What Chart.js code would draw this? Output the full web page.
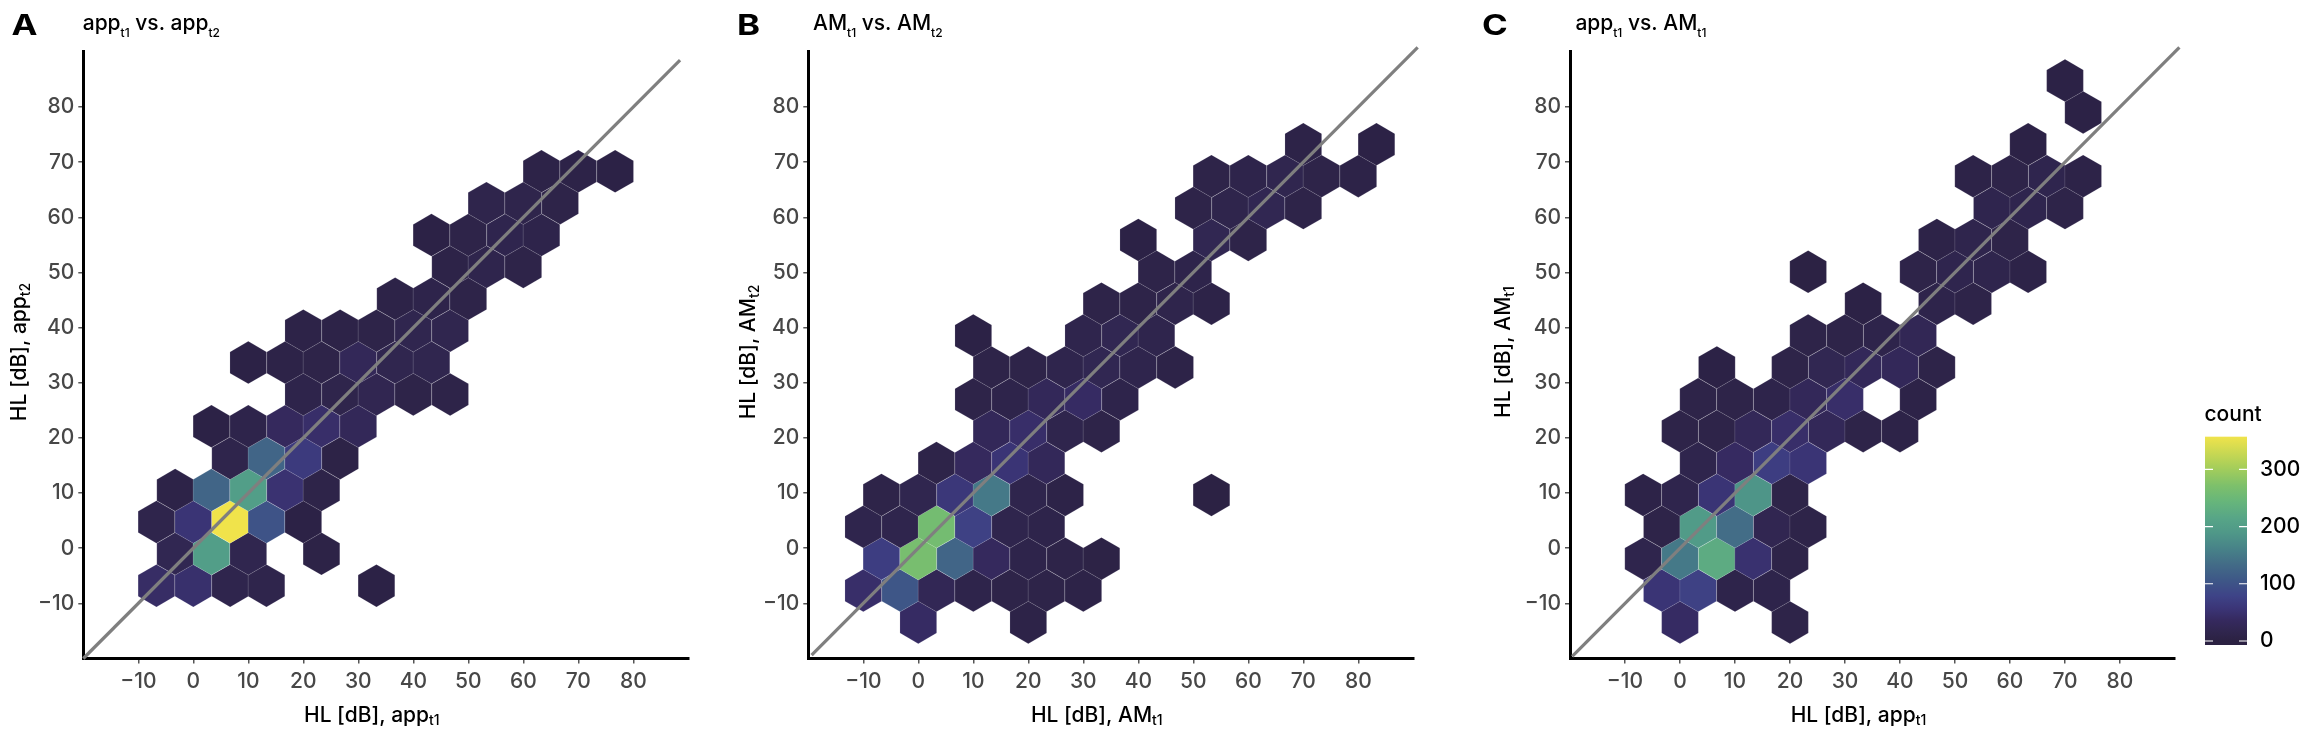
<!DOCTYPE html>
<html>
<head>
<meta charset="utf-8">
<script src="https://cdn.jsdelivr.net/npm/chart.js@4.4.0/dist/chart.umd.min.js"></script>
<style>
  body { margin: 0; background: #fff; }
  #wrap { position: relative; width: 2309px; height: 742px; background: #fff; }
  canvas { position: absolute; top: 0; }
</style>
</head>
<body>
<div id="wrap">
  <canvas id="pA" width="724" height="742" style="left:0px"></canvas>
  <canvas id="pB" width="752" height="742" style="left:724px"></canvas>
  <canvas id="pC" width="833" height="742" style="left:1476px"></canvas>
</div>
<script>
const FONT = 'Inter, "Liberation Sans", Arial, sans-serif';
const WEIGHT = '500 ';

// axis ticks (both axes, all panels) and colour bar ticks
const axisTicks = [-10, 0, 10, 20, 30, 40, 50, 60, 70, 80];
const legendTicks = [0, 100, 200, 300];
const countMax = 357;

// hex bin size in data units (width, row spacing)
const hexW = 6.667;
const hexS = 5.78;

// ---- panel A: app t1 vs app t2 ----
const aRowY = [-6.8, -1.02, 4.76, 10.54, 16.32, 22.1, 27.88, 33.66, 39.44, 45.22, 51.0, 56.78, 62.56, 68.34];
const aRowX = [
  [-6.7, 0, 6.7, 13.3, 33.3],
  [-3.3, 3.3, 10, 23.3],
  [-6.7, 0, 6.7, 13.3, 20],
  [-3.3, 3.3, 10, 16.7, 23.3],
  [6.7, 13.3, 20, 26.7],
  [3.3, 10, 16.7, 23.3, 30],
  [20, 26.7, 33.3, 40, 46.7],
  [10, 16.7, 23.3, 30, 36.7, 43.3],
  [20, 26.7, 33.3, 40, 46.7],
  [36.7, 43.3, 50],
  [46.7, 53.3, 60],
  [43.3, 50, 56.7, 63.3],
  [53.3, 60, 66.7],
  [63.3, 70, 76.7]
];
const aRowN = [
  [42, 48, 15, 14, 5],
  [22, 200, 18, 7],
  [14, 55, 357, 100, 5],
  [8, 125, 200, 52, 10],
  [14, 125, 65, 7],
  [5, 12, 35, 45, 28],
  [12, 14, 20, 10, 9],
  [5, 8, 10, 28, 18, 18],
  [8, 8, 10, 18, 18],
  [8, 12, 10],
  [8, 15, 10],
  [5, 10, 16, 12],
  [14, 14, 10],
  [8, 8, 5]
];

// ---- panel B: AM t1 vs AM t2 ----
const bRowY = [-13.45, -7.67, -1.89, 3.89, 9.67, 15.45, 21.23, 27.01, 32.79, 38.57, 44.35, 50.13, 55.91, 61.69, 67.47, 73.25];
const bRowX = [
  [0, 20],
  [-10, -3.3, 3.3, 10, 16.7, 23.3, 30],
  [-6.7, 0, 6.7, 13.3, 20, 26.7, 33.3],
  [-10, -3.3, 3.3, 10, 16.7, 23.3],
  [-6.7, 0, 6.7, 13.3, 20, 26.7, 53.3],
  [3.3, 10, 16.7, 23.3],
  [13.3, 20, 26.7, 33.3],
  [10, 16.7, 23.3, 30, 36.7],
  [13.3, 20, 26.7, 33.3, 40, 46.7],
  [10, 30, 36.7, 43.3],
  [33.3, 40, 46.7, 53.3],
  [43.3, 50],
  [40, 53.3, 60],
  [50, 56.7, 63.3, 70],
  [53.3, 60, 66.7, 73.3, 80],
  [70, 83.3]
];
const bRowN = [
  [40, 8],
  [45, 105, 25, 12, 10, 10, 8],
  [70, 265, 125, 35, 12, 10, 6],
  [15, 15, 260, 75, 15, 12],
  [10, 18, 60, 150, 15, 8, 3],
  [10, 35, 55, 30],
  [30, 45, 15, 10],
  [10, 12, 30, 40, 12],
  [10, 10, 15, 22, 15, 8],
  [5, 15, 22, 15],
  [10, 10, 14, 8],
  [10, 12],
  [5, 22, 10],
  [10, 14, 22, 10],
  [10, 12, 18, 10, 8],
  [8, 5]
];

// ---- panel C: app t1 vs AM t1 ----
const cRowY = [-13.45, -7.67, -1.89, 3.89, 9.67, 15.45, 21.23, 27.01, 32.79, 38.57, 44.35, 50.13, 55.91, 61.69, 67.47, 73.25, 79.03, 84.81];
const cRowX = [
  [0, 20],
  [-3.3, 3.3, 10, 16.7],
  [-6.7, 0, 6.7, 13.3, 20],
  [-3.3, 3.3, 10, 16.7, 23.3],
  [-6.7, 0, 6.7, 13.3, 20],
  [3.3, 10, 16.7, 23.3],
  [0, 6.7, 13.3, 20, 26.7, 33.3, 40],
  [3.3, 10, 16.7, 23.3, 30, 43.3],
  [6.7, 20, 26.7, 33.3, 40, 46.7],
  [23.3, 30, 36.7, 43.3],
  [33.3, 46.7, 53.3],
  [23.3, 43.3, 50, 56.7, 63.3],
  [46.7, 53.3, 60],
  [56.7, 63.3, 70],
  [53.3, 60, 66.7, 73.3],
  [63.3],
  [73.3],
  [70]
];
const cRowN = [
  [40, 10],
  [55, 75, 12, 12],
  [15, 150, 225, 50, 10],
  [10, 195, 135, 20, 10],
  [8, 15, 55, 185, 10],
  [15, 38, 70, 55],
  [10, 10, 28, 45, 28, 10, 8],
  [10, 10, 12, 30, 45, 8],
  [5, 10, 22, 30, 30, 10],
  [10, 10, 12, 25],
  [5, 12, 10],
  [3, 10, 16, 15, 8],
  [8, 15, 10],
  [16, 16, 10],
  [8, 10, 16, 8],
  [5],
  [5],
  [5]
];

// identity line ends
const aLine = [-20, 88.5];
const bLine = [-19.4, 90.8];
const cLine = [-19.6, 90.8];

// texts ('_' marks a subscript run)
const aTitle = ['app', '_t1', ' vs. app', '_t2'];
const aXTitle = ['HL [dB], app', '_t1'];
const aYTitle = ['HL [dB], app', '_t2'];
const bTitle = ['AM', '_t1', ' vs. AM', '_t2'];
const bXTitle = ['HL [dB], AM', '_t1'];
const bYTitle = ['HL [dB], AM', '_t2'];
const cTitle = ['app', '_t1', ' vs. AM', '_t1'];
const cXTitle = ['HL [dB], app', '_t1'];
const cYTitle = ['HL [dB], AM', '_t1'];

// viridis-like colours as they appear in the figure
const palette = [
  [0, '#2b2142'], [0.05, '#30264f'], [0.1, '#35295e'], [0.16, '#3b3577'],
  [0.22, '#3e4387'], [0.3, '#3e5887'], [0.38, '#436d87'], [0.45, '#478288'],
  [0.53, '#4f9888'], [0.6, '#57a587'], [0.68, '#66b57b'], [0.76, '#7dc06b'],
  [0.85, '#a6ce5a'], [1, '#f0e34b']
];

function hexToRgb(h) {
  return [parseInt(h.slice(1, 3), 16), parseInt(h.slice(3, 5), 16), parseInt(h.slice(5, 7), 16)];
}
function countColor(n) {
  let t = Math.max(0, Math.min(1, n / countMax));
  for (let i = 1; i < palette.length; i++) {
    if (t <= palette[i][0]) {
      const [t0, c0] = palette[i - 1], [t1, c1] = palette[i];
      const f = (t - t0) / (t1 - t0);
      const a = hexToRgb(c0), b = hexToRgb(c1);
      return 'rgb(' + a.map((v, j) => Math.round(v + (b[j] - v) * f)).join(',') + ')';
    }
  }
  return palette[palette.length - 1][1];
}

function toPoints(rowY, rowX, rowN) {
  const pts = [];
  rowY.forEach((y, k) => rowX[k].forEach((x, i) => pts.push({ x: x, y: y, n: rowN[k][i] })));
  return pts;
}

function fmt(v) {
  return v < 0 ? '\u2212' + Math.abs(v) : String(v);
}

// draws text runs with subscripts, baseline at y
function drawRich(ctx, parts, x, y, size, subSize, shift, align) {
  const runs = parts.map(p => p[0] === '_' ? { t: p.slice(1), sub: true } : { t: p, sub: false });
  let total = 0;
  runs.forEach(r => {
    ctx.font = WEIGHT + (r.sub ? subSize : size) + 'px ' + FONT;
    r.w = ctx.measureText(r.t).width;
    total += r.w;
  });
  let cx = align === 'center' ? x - total / 2 : x;
  ctx.textAlign = 'left';
  ctx.textBaseline = 'alphabetic';
  runs.forEach(r => {
    ctx.font = WEIGHT + (r.sub ? subSize : size) + 'px ' + FONT;
    ctx.fillText(r.t, cx, r.sub ? y + shift : y);
    cx += r.w;
  });
}

const hexPlugin = {
  id: 'hexes',
  beforeDatasetsDraw(chart) {
    const { ctx } = chart;
    const xs = chart.scales.x, ys = chart.scales.y;
    const meta = chart.getDatasetMeta(0);
    const raw = chart.data.datasets[0].data;
    const w = Math.abs(xs.getPixelForValue(hexW) - xs.getPixelForValue(0));
    const s = Math.abs(ys.getPixelForValue(0) - ys.getPixelForValue(hexS));
    ctx.save();
    meta.data.forEach((el, i) => {
      const cx = el.x, cy = el.y;
      ctx.beginPath();
      ctx.moveTo(cx, cy - 2 * s / 3);
      ctx.lineTo(cx + w / 2, cy - s / 3);
      ctx.lineTo(cx + w / 2, cy + s / 3);
      ctx.lineTo(cx, cy + 2 * s / 3);
      ctx.lineTo(cx - w / 2, cy + s / 3);
      ctx.lineTo(cx - w / 2, cy - s / 3);
      ctx.closePath();
      ctx.fillStyle = countColor(raw[i].n);
      ctx.fill();
      ctx.strokeStyle = 'rgba(255,255,255,0.18)';
      ctx.lineWidth = 0.7;
      ctx.stroke();
    });
    ctx.restore();
  }
};

function makeTextPlugin(o) {
  return {
    id: 'texts',
    afterDraw(chart) {
      const { ctx, chartArea } = chart;
      ctx.save();
      ctx.fillStyle = '#000';
      ctx.textAlign = 'left';
      ctx.textBaseline = 'alphabetic';
      // panel letter, a little wider than the bold face
      ctx.save();
      ctx.translate(o.letterX, 35);
      ctx.scale(1.2, 1);
      ctx.font = 'bold 29px ' + FONT;
      ctx.fillText(o.letter, 0, 0);
      ctx.restore();
      drawRich(ctx, o.title, o.titleX, 29.5, 21, 12, 7, 'left');
      const mid = (chartArea.left + chartArea.right) / 2 - 14;
      drawRich(ctx, o.xTitle, mid, 721.5, 21, 14, 3.5, 'center');
      ctx.translate(o.yTitleX, 352);
      ctx.rotate(-Math.PI / 2);
      drawRich(ctx, o.yTitle, 0, 0, 21, 14, 4, 'center');
      ctx.restore();

      if (o.legend) {
        // colour bar
        const x0 = 729, x1 = 771, zeroY = 641, pxPer = 0.5723;
        const yTop = zeroY - countMax * pxPer, yBot = zeroY + 4;
        const grad = ctx.createLinearGradient(0, yBot, 0, yTop);
        const span = countMax + 4 / pxPer;
        grad.addColorStop(0, palette[0][1]);
        palette.forEach(([t, c]) => grad.addColorStop((t * countMax + 4 / pxPer) / span, c));
        ctx.save();
        ctx.fillStyle = grad;
        ctx.fillRect(x0, yTop, x1 - x0, yBot - yTop);
        ctx.strokeStyle = '#fff';
        ctx.lineWidth = 1.2;
        ctx.font = WEIGHT + '21px ' + FONT;
        ctx.textAlign = 'left';
        ctx.textBaseline = 'middle';
        legendTicks.forEach(v => {
          const yy = zeroY - v * pxPer;
          ctx.beginPath();
          ctx.moveTo(x0, yy); ctx.lineTo(x0 + 8, yy);
          ctx.moveTo(x1 - 8, yy); ctx.lineTo(x1, yy);
          ctx.stroke();
          ctx.fillStyle = '#000';
          ctx.fillText(String(v), 784, yy);
        });
        ctx.textBaseline = 'alphabetic';
        ctx.fillText('count', 728.5, 420.5);
        ctx.restore();
      }
    }
  };
}

function axisOpts(isX, leftPx) {
  return {
    type: 'linear',
    min: -20,
    max: 90,
    afterBuildTicks: s => { s.ticks = axisTicks.map(v => ({ value: v })); },
    afterFit: s => { if (isX) s.height = 742 - 658.5; else s.width = leftPx; },
    border: { display: true, color: '#000', width: 3 },
    grid: { drawOnChartArea: false, drawTicks: true, tickLength: 5, color: '#555', lineWidth: 1.5 },
    ticks: {
      font: { family: FONT, size: 21, weight: '500' },
      color: '#474747',
      padding: isX ? 6 : 4,
      maxRotation: 0,
      autoSkip: false,
      callback: v => fmt(v)
    }
  };
}

function makePanel(id, pts, line, leftPx, canvasW, opts) {
  new Chart(document.getElementById(id), {
    type: 'scatter',
    data: {
      datasets: [
        { data: pts, pointRadius: 0, pointHoverRadius: 0, hitRadius: 0 },
        {
          type: 'line',
          data: [{ x: line[0], y: line[0] }, { x: line[1], y: line[1] }],
          borderColor: '#7f7f7f', borderWidth: 3.2, pointRadius: 0, clip: false, showLine: true
        }
      ]
    },
    options: {
      responsive: false,
      animation: false,
      devicePixelRatio: 1,
      events: [],
      layout: { padding: { left: 0, top: 51.9, right: canvasW - leftPx - 605, bottom: 0 } },
      scales: { x: axisOpts(true, leftPx), y: axisOpts(false, leftPx) },
      plugins: { legend: { display: false }, tooltip: { enabled: false } }
    },
    plugins: [hexPlugin, makeTextPlugin(opts)]
  });
}

makePanel('pA', toPoints(aRowY, aRowX, aRowN), aLine, 83.3, 724,
  { letter: 'A', letterX: 11.5, title: aTitle, titleX: 82.7, xTitle: aXTitle, yTitle: aYTitle, yTitleX: 26, legend: false });
makePanel('pB', toPoints(bRowY, bRowX, bRowN), bLine, 84.3, 752,
  { letter: 'B', letterX: 13, title: bTitle, titleX: 89, xTitle: bXTitle, yTitle: bYTitle, yTitleX: 31, legend: false });
makePanel('pC', toPoints(cRowY, cRowX, cRowN), cLine, 94, 833,
  { letter: 'C', letterX: 6, title: cTitle, titleX: 99.4, xTitle: cXTitle, yTitle: cYTitle, yTitleX: 34, legend: true });
</script>
</body>
</html>
